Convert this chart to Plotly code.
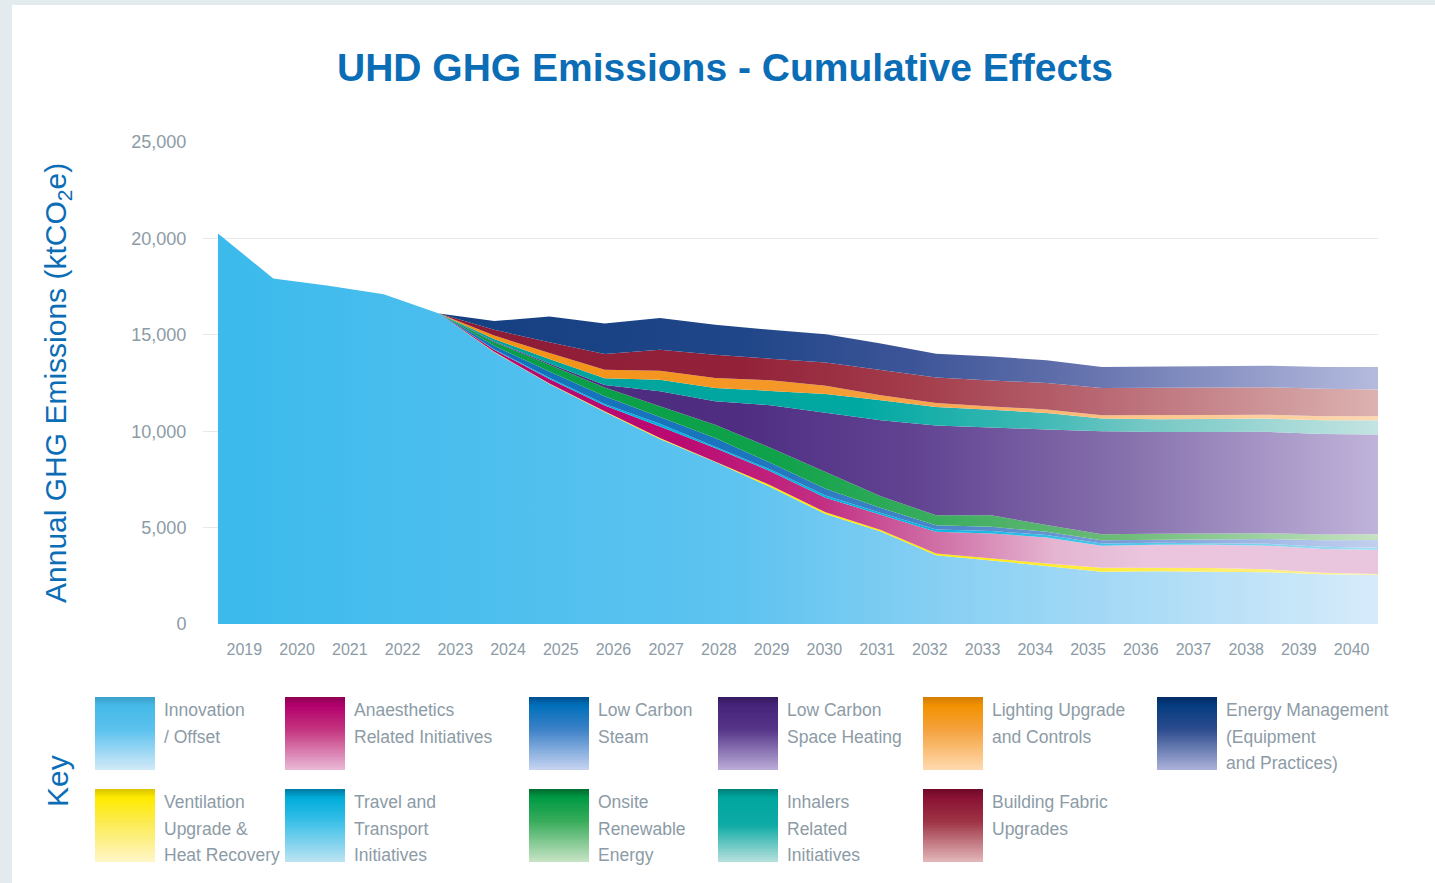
import plotly.graph_objects as go

# ---------------- data ----------------
years = list(range(2019, 2041))
year_labels = [str(y) for y in years]

innovation_offset = [20250, 17920, 17550, 17100, 16100, 14100, 12450, 11000, 9600, 8400, 7100,
                     5700, 4800, 3560, 3300, 3000, 2710, 2740, 2730, 2690, 2575, 2540]
ventilation = [0, 0, 0, 0, 0, 20, 30, 30, 50, 40, 100, 90, 70, 100, 100, 140, 210, 170, 170, 150, 85, 50]
anaesthetics = [0, 0, 0, 0, 0, 100, 230, 300, 600, 690, 720, 760, 800, 1120, 1300, 1350, 1140, 1200, 1210, 1220, 1225, 1245]
travel = [0, 0, 0, 0, 0, 30, 60, 80, 140, 90, 90, 120, 90, 120, 130, 120, 120, 100, 90, 100, 120, 120]
steam = [0, 0, 0, 0, 0, 180, 330, 400, 350, 430, 350, 350, 260, 220, 210, 170, 170, 170, 180, 250, 345, 400]
onsite = [0, 0, 0, 0, 0, 190, 350, 460, 550, 690, 780, 865, 600, 520, 600, 350, 300, 295, 295, 295, 295, 295]
space_heating = [0, 0, 0, 0, 0, 30, 60, 120, 780, 1210, 2210, 3090, 3950, 4660, 4540, 4960, 5350, 5280, 5280, 5260, 5210, 5180]
inhalers = [0, 0, 0, 0, 0, 130, 240, 350, 600, 690, 740, 950, 1040, 950, 930, 860, 660, 670, 680, 690, 710, 740]
lighting = [0, 0, 0, 0, 0, 180, 310, 450, 470, 520, 550, 430, 260, 210, 170, 175, 170, 190, 200, 200, 210, 210]
building_fabric = [0, 0, 0, 0, 0, 300, 560, 810, 1090, 1210, 1120, 1210, 1300, 1320, 1350, 1380, 1410, 1430, 1430, 1430, 1430, 1380]
energy_mgmt = [0, 0, 0, 0, 0, 450, 1330, 1580, 1640, 1550, 1500, 1470, 1380, 1240, 1240, 1180, 1090, 1100, 1100, 1110, 1120, 1175]

y_ticks = [0, 5000, 10000, 15000, 20000, 25000]

# ---------------- styles ----------------
series = [
    ("Innovation / Offset", innovation_offset,
     [[0, '#3BBAEC'], [0.45, '#5EC3F0'], [0.62, '#86CFF3'], [0.78, '#A7DAF6'], [1, '#D6EBFA']]),
    ("Ventilation Upgrade & Heat Recovery", ventilation,
     [[0, '#FFE500'], [0.6, '#FFE800'], [1, '#FFF1A0']]),
    ("Anaesthetics Related Initiatives", anaesthetics,
     [[0, '#B4006D'], [0.4, '#BA0A72'], [0.52, '#C22F82'], [0.62, '#D06FA6'], [0.72, '#E4B4D0'], [0.8, '#EAC5DD'], [1, '#EAC6DE']]),
    ("Travel and Transport Initiatives", travel,
     [[0, '#00AEDD'], [0.6, '#00B4E0'], [1, '#A8DEF3']]),
    ("Low Carbon Steam", steam,
     [[0, '#0A6CB6'], [0.45, '#1A75BE'], [0.6, '#4383C8'], [0.78, '#7A9CD8'], [1, '#C2D0EF']]),
    ("Onsite Renewable Energy", onsite,
     [[0, '#009A44'], [0.48, '#0FA24A'], [0.62, '#3BAD5E'], [0.78, '#6EBC79'], [1, '#C6E2C2']]),
    ("Low Carbon Space Heating", space_heating,
     [[0, '#48287C'], [0.45, '#4F2E82'], [0.6, '#614392'], [0.78, '#8670AC'], [1, '#C0B3DA']]),
    ("Inhalers Related Initiatives", inhalers,
     [[0, '#009E97'], [0.55, '#00A8A2'], [0.7, '#3BB8B4'], [0.8, '#75C8C5'], [1, '#C3E4E2']]),
    ("Lighting Upgrade and Controls", lighting,
     [[0, '#F28E00'], [0.5, '#F4982A'], [0.65, '#F9AB5A'], [0.8, '#FCC68C'], [1, '#FFD8AE']]),
    ("Building Fabric Upgrades", building_fabric,
     [[0, '#8A1535'], [0.45, '#932239'], [0.6, '#A33C4B'], [0.75, '#B76570'], [1, '#DCB2B0']]),
    ("Energy Management (Equipment and Practices)", energy_mgmt,
     [[0, '#0B3A7C'], [0.45, '#1F4688'], [0.6, '#3D5598'], [0.75, '#6673AE'], [1, '#B5BBDE']]),
]

FONT = "Liberation Sans, Arial, sans-serif"
BLUE = '#0B6DB5'
GRAY = '#8C9BA6'

W, H = 1435, 883
L, R, T, B = 203, 1378, 142, 624


def px(x):
    return (x - L) / (R - L)


def py(y):
    return (B - y) / (B - T)


fig = go.Figure()
for name, vals, cs in series:
    fig.add_trace(go.Scatter(
        x=years, y=vals, name=name, mode='lines', stackgroup='one',
        line=dict(width=0, shape='linear'),
        fillgradient=dict(type='horizontal', colorscale=cs, start=years[0], stop=years[-1]),
        showlegend=False, hoverinfo='x+y+name',
    ))

# tick labels sit at category centres across the data span
n = len(years)
span = years[-1] - years[0]
tickvals = [years[0] + (i + 0.5) * span / n for i in range(n)]
x_left = years[0] - (218 - L) * span / (R - 218)

shapes = []
# page background card
shapes.append(dict(type='rect', xref='paper', yref='paper', layer='below',
                   x0=px(0), x1=px(W), y0=py(0), y1=py(H), fillcolor='#E4EBEE', line_width=0))
shapes.append(dict(type='rect', xref='paper', yref='paper', layer='below',
                   x0=px(12), x1=px(W), y0=py(5), y1=py(H), fillcolor='white', line_width=0))


def hex2rgb(h):
    h = h.lstrip('#')
    return [int(h[i:i + 2], 16) for i in (0, 2, 4)]


def interp(stops, t):
    for i in range(len(stops) - 1):
        t0, c0 = stops[i]
        t1, c1 = stops[i + 1]
        if t0 <= t <= t1:
            f = 0 if t1 == t0 else (t - t0) / (t1 - t0)
            a, b = hex2rgb(c0), hex2rgb(c1)
            return 'rgb(%d,%d,%d)' % tuple(round(a[k] + (b[k] - a[k]) * f) for k in range(3))
    return stops[-1][1]


legend_items = [
    # (text lines, swatch x, swatch top y, vertical colour stops)
    (["Innovation", "/ Offset"], 95, 697, [[0, '#3A9FC8'], [0.12, '#45B9E8'], [0.45, '#5CC2EE'], [1, '#D2EAF8']]),
    (["Anaesthetics", "Related Initiatives"], 285, 697, [[0, '#8E0052'], [0.12, '#B3006C'], [0.45, '#C4357F'], [1, '#EABBD6']]),
    (["Low Carbon", "Steam"], 529, 697, [[0, '#00508F'], [0.12, '#0070BA'], [0.45, '#3E82C8'], [1, '#C8D4F1']]),
    (["Low Carbon", "Space Heating"], 718, 697, [[0, '#35195F'], [0.12, '#45247A'], [0.45, '#563689'], [1, '#BBADD8']]),
    (["Lighting Upgrade", "and Controls"], 923, 697, [[0, '#D17C00'], [0.12, '#F39200'], [0.45, '#F5A23E'], [1, '#FFDAB0']]),
    (["Energy Management", "(Equipment", "and Practices)"], 1157, 697, [[0, '#002B64'], [0.12, '#053C80'], [0.45, '#2D4D8E'], [1, '#ADB2DA']]),
    (["Ventilation", "Upgrade &", "Heat Recovery"], 95, 789, [[0, '#D9C400'], [0.12, '#FFEB00'], [0.45, '#FCEB50'], [1, '#FFF6C8']]),
    (["Travel and", "Transport", "Initiatives"], 285, 789, [[0, '#00799F'], [0.12, '#00ACDA'], [0.4, '#30BDE6'], [1, '#BEE3F3']]),
    (["Onsite", "Renewable", "Energy"], 529, 789, [[0, '#006A30'], [0.12, '#009A44'], [0.45, '#3AAD5C'], [1, '#C9E4C6']]),
    (["Inhalers", "Related", "Initiatives"], 718, 789, [[0, '#007F79'], [0.12, '#00A69F'], [0.5, '#10ABA5'], [1, '#B9E1DE']]),
    (["Building Fabric", "Upgrades"], 923, 789, [[0, '#6E0A27'], [0.12, '#8A1234'], [0.45, '#9E3446'], [1, '#E3B9BA']]),
]

annotations = []
SW, SH, NSTRIP = 60, 73, 30
for lines, sx, sy, stops in legend_items:
    for k in range(NSTRIP):
        y0 = sy + SH * k / NSTRIP
        y1 = min(sy + SH, sy + SH * (k + 1) / NSTRIP + 1.0)
        col = interp(stops, (k + 0.5) / NSTRIP)
        shapes.append(dict(type='rect', xref='paper', yref='paper',
                           x0=px(sx), x1=px(sx + SW), y0=py(y1), y1=py(y0),
                           fillcolor=col, line_width=0))
    for j, line in enumerate(lines):
        annotations.append(dict(text=line, xref='paper', yref='paper',
                                x=px(sx + SW + 7), y=py(sy + 13 + 26.5 * j),
                                xanchor='left', yanchor='middle', align='left', showarrow=False,
                                font=dict(family=FONT, size=17.5, color=GRAY)))

annotations.append(dict(text="Annual GHG Emissions (ktCO<sub>2</sub>e)", xref='paper', yref='paper',
                        x=px(57), y=py(383), textangle=-90, showarrow=False,
                        xanchor='center', yanchor='middle',
                        font=dict(family=FONT, size=30, color=BLUE)))
annotations.append(dict(text="Key", xref='paper', yref='paper',
                        x=px(57), y=py(781), textangle=-90, showarrow=False,
                        xanchor='center', yanchor='middle',
                        font=dict(family=FONT, size=30, color=BLUE)))
annotations.append(dict(text="<b>UHD GHG Emissions - Cumulative Effects</b>", xref='paper', yref='paper',
                        x=px(725), y=py(67), showarrow=False, xanchor='center', yanchor='middle',
                        font=dict(family=FONT, size=39, color=BLUE)))

fig.update_layout(
    width=W, height=H,
    margin=dict(l=L, r=W - R, t=T, b=H - B, pad=0),
    paper_bgcolor='white', plot_bgcolor='rgba(0,0,0,0)',
    shapes=shapes, annotations=annotations,
    xaxis=dict(range=[x_left, years[-1]],
               tickvals=tickvals, ticktext=year_labels,
               showgrid=False, zeroline=False, showline=False,
               ticks='outside', ticklen=11, tickcolor='rgba(0,0,0,0)',
               tickfont=dict(family=FONT, size=16, color=GRAY)),
    yaxis=dict(range=[0, 25000], tickvals=y_ticks, tickformat=',d',
               showgrid=True, gridcolor='#E6E8EA', gridwidth=1, zeroline=False, showline=False,
               ticks='outside', ticklen=12, tickcolor='rgba(0,0,0,0)',
               tickfont=dict(family=FONT, size=18, color=GRAY)),
    font=dict(family=FONT),
)

fig.write_html("out.html", config={'displayModeBar': False},
               post_script="document.body.style.margin='0'; document.body.style.overflow='hidden';")
